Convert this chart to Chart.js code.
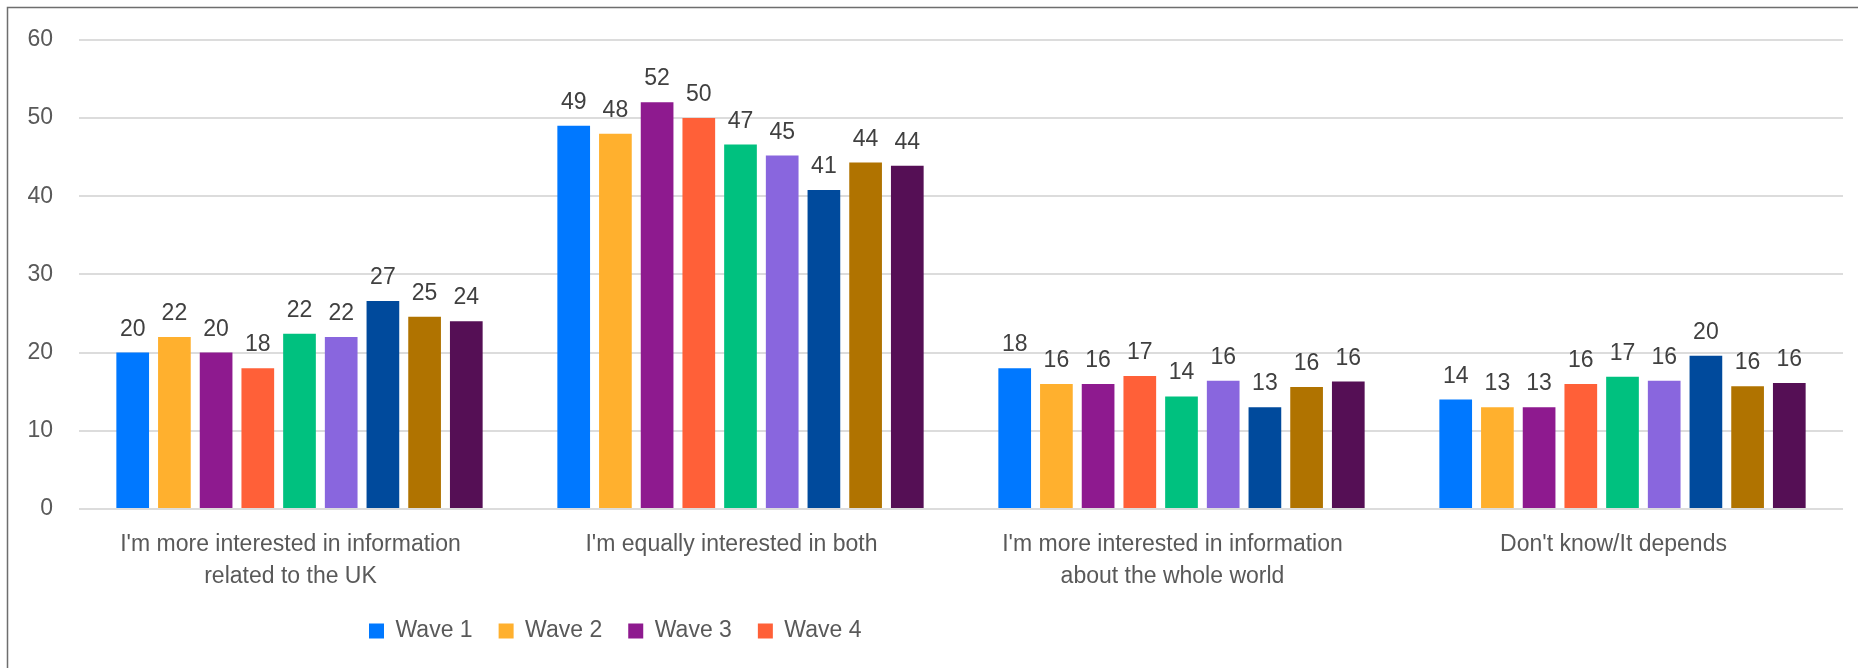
<!DOCTYPE html>
<html>
<head>
<meta charset="utf-8">
<script src="https://cdn.jsdelivr.net/npm/chart.js@4.4.1/dist/chart.umd.min.js"></script>
<style>
    html, body { margin: 0; padding: 0; background: #fff; }
    #wrap { width: 1858px; height: 668px; position: relative; }
</style>
</head>
<body>
<div id="wrap"><canvas id="interestChart"></canvas></div>
<script>
const categories = [
    ["I'm more interested in information", 'related to the UK'],
    "I'm equally interested in both",
    ["I'm more interested in information", 'about the whole world'],
    "Don't know/It depends"
];
const seriesNames = ['Wave 1', 'Wave 2', 'Wave 3', 'Wave 4', 'Wave 5', 'Wave 6', 'Wave 7', 'Wave 8', 'Wave 9'];
const wave1 = [20, 49, 18, 14];
const wave2 = [22, 48, 16, 13];
const wave3 = [20, 52, 16, 13];
const wave4 = [18, 50, 17, 16];
const wave5 = [22.4, 46.6, 14.4, 16.9];
const wave6 = [22, 45.2, 16.4, 16.4];
const wave7 = [26.6, 40.8, 13, 19.6];
const wave8 = [24.6, 44.3, 15.6, 15.7];
const wave9 = [24, 43.9, 16.3, 16.1];
const yTicks = [0, 10, 20, 30, 40, 50, 60];
const legendShown = 4; // only the first four waves appear in the key

const seriesValues = [wave1, wave2, wave3, wave4, wave5, wave6, wave7, wave8, wave9];
const colors = ['#0078FF', '#FFB02E', '#8E1A8F', '#FF6038', '#00C17F', '#8966DE', '#004A9C', '#B07300', '#550F55'];

const FONT = "'Liberation Sans', Arial, sans-serif";
const FONT_SIZE = 23;
const PLOT_BOTTOM = 509;

// draws the rounded value above each bar
const valueLabels = {
    id: 'valueLabels',
    afterDatasetsDraw(chart) {
        const ctx = chart.ctx;
        ctx.save();
        ctx.font = FONT_SIZE + 'px ' + FONT;
        ctx.fillStyle = '#404040';
        ctx.textAlign = 'center';
        ctx.textBaseline = 'alphabetic';
        chart.data.datasets.forEach((ds, i) => {
            chart.getDatasetMeta(i).data.forEach((bar, j) => {
                ctx.fillText(Math.round(ds.data[j]), bar.x, bar.y - 17);
            });
        });
        ctx.restore();
    }
};

// thin frame at the top/left edge like the source image
const frame = {
    id: 'frame',
    beforeDraw(chart) {
        const ctx = chart.ctx;
        ctx.save();
        ctx.fillStyle = '#fff';
        ctx.fillRect(0, 0, chart.width, chart.height);
        ctx.strokeStyle = '#6e6e6e';
        ctx.lineWidth = 1.5;
        ctx.strokeRect(7.5, 7.5, chart.width + 20, chart.height + 20);
        ctx.restore();
    }
};

// the key sits left of centre in the reference
const legendShift = {
    id: 'legendShift',
    afterLayout(chart) {
        const lg = chart.legend;
        const pad = lg.options.labels.padding;
        lg.left = 369 - pad;
        lg.top = 631 - pad - FONT_SIZE / 2;
    }
};

const ctx = document.getElementById('interestChart').getContext('2d');
new Chart(ctx, {
    type: 'bar',
    data: {
        labels: categories,
        datasets: seriesValues.map((vals, i) => ({
            label: seriesNames[i],
            data: vals,
            backgroundColor: colors[i],
            borderWidth: 0,
            categoryPercentage: 0.851,
            barPercentage: 0.784
        }))
    },
    plugins: [frame, valueLabels, legendShift],
    options: {
        responsive: true,
        maintainAspectRatio: false,
        animation: false,
        layout: {
            padding: { top: 36, right: 15, bottom: 0, left: 0 }
        },
        plugins: {
            tooltip: { enabled: false },
            legend: {
                display: true,
                position: 'bottom',
                align: 'start',
                labels: {
                    boxWidth: 15,
                    boxHeight: 15,
                    padding: 26,
                    color: '#595959',
                    font: { family: FONT, size: FONT_SIZE },
                    filter: item => item.datasetIndex < legendShown
                }
            }
        },
        scales: {
            x: {
                afterFit: scale => {
                    scale.height = scale.chart.height - scale.chart.legend.height - PLOT_BOTTOM;
                },
                grid: { display: false, drawTicks: false },
                border: { display: false },
                ticks: {
                    color: '#595959',
                    padding: 20,
                    labelOffset: -9,
                    maxRotation: 0,
                    autoSkip: false,
                    font: { family: FONT, size: FONT_SIZE, lineHeight: 1.38 }
                }
            },
            y: {
                min: 0,
                max: 60,
                afterFit: scale => { scale.width = 79; },
                afterBuildTicks: scale => { scale.ticks = yTicks.map(v => ({ value: v })); },
                grid: { color: '#dcdcdc', lineWidth: 2, drawTicks: false },
                border: { display: false },
                ticks: {
                    color: '#595959',
                    padding: 26,
                    font: { family: FONT, size: FONT_SIZE }
                }
            }
        }
    }
});
</script>
</body>
</html>
